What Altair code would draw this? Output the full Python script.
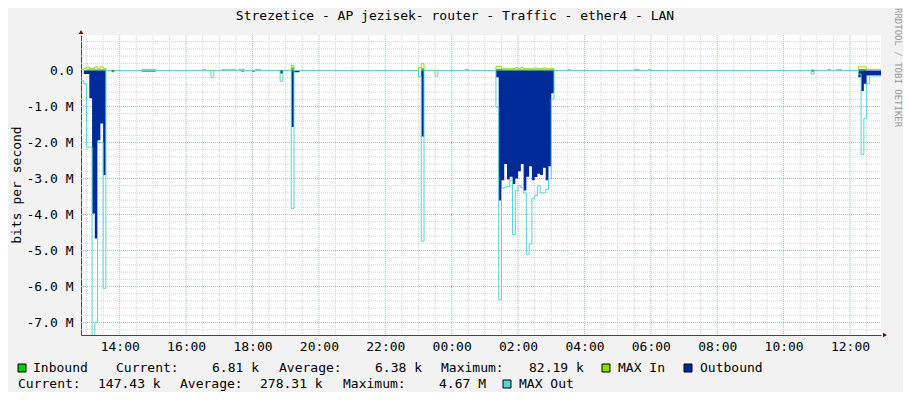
import altair as alt
import pandas as pd
import numpy as np

FONT = "DejaVu Sans Mono"

# ---------------- data: 5-minute RRD samples, values in Mbit/s ----------------
# times are HH:MM counted from midnight of day 1 (24:00 and later = next day)
outbound_t = ["12:55", "13:00", "13:05", "13:10", "13:15", "13:20", "13:25", "13:30",
              "13:45",
              "14:40", "14:45", "14:50", "14:55", "15:00",
              "17:40", "18:00",
              "18:50",
              "19:10", "19:15", "19:20",
              "23:05",
              "25:20", "25:25", "25:30", "25:35", "25:40", "25:45", "25:50", "25:55",
              "26:00", "26:05", "26:10", "26:15", "26:20", "26:25", "26:30", "26:35",
              "26:40", "26:45", "26:50", "26:55", "27:00",
              "34:50",
              "36:15", "36:20", "36:25", "36:30", "36:35", "36:40", "36:45", "36:50"]
outbound_v = [-0.10, -0.10, -0.77, -3.97, -4.67, -1.94, -1.47, -2.90,
              -0.04,
              -0.03, -0.03, -0.03, -0.03, -0.03,
              -0.03, -0.03,
              -0.08,
              -1.57, -0.05, -0.05,
              -1.83,
              -0.19, -3.61, -3.05, -2.60, -3.03, -2.95, -3.15, -3.00,
              -2.80, -2.60, -3.33, -2.95, -2.66, -3.05, -2.96, -2.87,
              -2.90, -2.70, -3.05, -2.66, -0.63,
              -0.03,
              -0.19, -0.57, -0.37, -0.14, -0.14, -0.14, -0.14, -0.14]

maxout_t = ["12:50", "12:55", "13:00", "13:05", "13:10", "13:15", "13:20", "13:25", "13:30",
            "13:45", "16:45", "18:50", "19:10", "23:00", "23:05", "23:30",
            "25:20", "25:25", "25:30", "25:35", "25:40", "25:45", "25:50", "25:55",
            "26:00", "26:05", "26:10", "26:15", "26:20", "26:25", "26:30", "26:35",
            "26:40", "26:45", "26:50", "26:55", "27:00",
            "34:50",
            "36:15", "36:20", "36:25", "36:30", "36:35", "36:40", "36:45", "36:50"]
maxout_v = [-0.28, -0.37, -2.13, -2.13, -7.60, -7.00, -2.00, -2.00, -6.05,
            -0.04, -0.20, -0.30, -3.83, -0.17, -4.74, -0.16,
            -1.02, -6.37, -3.27, -3.24, -3.22, -3.05, -4.56, -3.33,
            -3.20, -3.25, -3.40, -5.12, -4.82, -3.55, -3.47, -3.20,
            -3.40, -3.40, -3.30, -3.00, -0.79,
            -0.10,
            -0.10, -2.33, -1.33, -0.37, -0.15, -0.15, -0.15, -0.15]

maxin_t = ["12:50", "12:55", "13:00", "13:05", "13:10", "13:15", "13:20", "13:25", "13:30",
           "14:40", "14:45", "14:50", "14:55", "15:00",
           "16:30", "17:05", "17:10", "17:15", "17:20", "17:25", "17:35", "17:40",
           "18:05", "18:10", "19:10", "23:00", "23:05", "24:25",
           "25:20", "25:25", "25:30", "25:35", "25:40", "25:45", "25:50", "25:55",
           "26:00", "26:05", "26:10", "26:15", "26:20", "26:25", "26:30", "26:35",
           "26:40", "26:45", "26:50", "26:55", "27:00",
           "27:30", "29:30", "29:35", "29:55", "34:50", "35:20", "35:35", "35:40",
           "36:15", "36:20", "36:25", "36:30", "36:35", "36:40", "36:45", "36:50"]
maxin_v = [0.03, 0.06, 0.10, 0.06, 0.06, 0.10, 0.06, 0.10, 0.06,
           0.03, 0.03, 0.03, 0.03, 0.03,
           0.03, 0.03, 0.03, 0.03, 0.03, 0.03, 0.03, 0.03,
           0.03, 0.03, 0.14, 0.08, 0.19, 0.03,
           0.11, 0.11, 0.05, 0.05, 0.05, 0.05, 0.05, 0.08,
           0.05, 0.08, 0.05, 0.05, 0.05, 0.05, 0.07, 0.05,
           0.05, 0.07, 0.05, 0.05, 0.05,
           0.03, 0.03, 0.03, 0.03, 0.02, 0.03, 0.03, 0.03,
           0.10, 0.10, 0.10, 0.03, 0.03, 0.03, 0.03, 0.03]

inbound_t = ["13:00", "13:05", "13:10", "13:15", "13:20", "13:25", "13:30",
             "19:10", "23:05",
             "25:20", "25:25", "25:30", "25:35", "25:40", "25:45", "25:50", "25:55",
             "26:00", "26:05", "26:10", "26:15", "26:20", "26:25", "26:30", "26:35",
             "26:40", "26:45", "26:50", "26:55", "27:00",
             "36:15", "36:20", "36:25"]
inbound_v = [0.03, 0.03, 0.03, 0.03, 0.03, 0.03, 0.03,
             0.08, 0.06,
             0.04, 0.04, 0.03, 0.03, 0.03, 0.03, 0.03, 0.03,
             0.03, 0.03, 0.03, 0.03, 0.03, 0.03, 0.03, 0.03,
             0.03, 0.03, 0.03, 0.03, 0.03,
             0.04, 0.04, 0.04]

x_label_times = ["14:00", "16:00", "18:00", "20:00", "22:00", "24:00",
                 "26:00", "28:00", "30:00", "32:00", "34:00", "36:00"]
y_tick_values = [0, -1, -2, -3, -4, -5, -6, -7]

title_text = "Strezetice - AP jezisek- router - Traffic - ether4 - LAN"
legend_row1 = ["Inbound", "Current:", "6.81 k", "Average:", "6.38 k",
               "Maximum:", "82.19 k", "MAX In", "Outbound"]
legend_row2 = ["Current:", "147.43 k", "Average:", "278.31 k", "Maximum:",
               "4.67 M", "MAX Out"]

C_IN, C_MAXIN, C_OUT, C_MAXOUT = "#00CF00", "#8AE000", "#002A97", "#55D6D3"

# ---------------- build ----------------
BASE = pd.Timestamp("2024-05-01")


def ts(hhmm):
    h, m = map(int, hhmm.split(":"))
    return BASE + pd.Timedelta(hours=h, minutes=m)


def dt(hhmm):
    t = ts(hhmm)
    return alt.DateTime(year=t.year, month=t.month, date=t.day,
                        hours=t.hour, minutes=t.minute)


samples = pd.date_range(ts("12:50"), ts("36:50"), freq="5min")
END = "36:56"


def series(times, vals):
    assert len(times) == len(vals)
    s = pd.Series(0.0, index=samples)
    for t, v in zip(times, vals):
        s[ts(t)] = v
    df = pd.DataFrame({"t": samples, "v": s.values})
    df = pd.concat([df, pd.DataFrame({"t": [ts(END)], "v": [s.values[-1]]})],
                   ignore_index=True)
    return df


df_out = series(outbound_t, outbound_v)
df_maxout = series(maxout_t, maxout_v)
df_maxin = series(maxin_t, maxin_v)
df_in = series(inbound_t, inbound_v)

W, H = 800, 300
PX_PER_M = 36.0
Y_TOP = 35.5 / PX_PER_M            # zero line lands on a pixel centre
Y_BOT = Y_TOP - H / PX_PER_M
xscale = alt.Scale(domain=[dt("12:50"), dt(END)])
yscale = alt.Scale(domain=[Y_BOT, Y_TOP], nice=False, zero=False)

# grid positions
minor_x = [t for t in pd.date_range(ts("13:00"), ts("36:30"), freq="30min")
           if not (t.minute == 0 and t.hour % 2 == 0)]
major_x = [ts(t) for t in x_label_times]
minor_y = [round(v, 1) for v in np.arange(-7.2, 0.81, 0.2) if abs(v - round(v)) > 1e-6]
major_y = [v for v in y_tick_values if v != 0]

GRID_MINOR = "#D2D2D2"
GRID_MAJOR = "#F2A0A0"

grid_minor_x = alt.Chart(pd.DataFrame({"t": minor_x})).mark_rule(
    color=GRID_MINOR, strokeDash=[1, 1], strokeWidth=1).encode(
    x=alt.X("t:T", scale=xscale, axis=None), y=alt.value(0), y2=alt.value(H))
grid_minor_y = alt.Chart(pd.DataFrame({"v": minor_y})).mark_rule(
    color=GRID_MINOR, strokeDash=[1, 1], strokeWidth=1).encode(
    y=alt.Y("v:Q", scale=yscale, axis=None), x=alt.value(0), x2=alt.value(W))
grid_major_x = alt.Chart(pd.DataFrame({"t": major_x})).mark_rule(
    color=GRID_MAJOR, strokeDash=[1, 1], strokeWidth=1).encode(
    x=alt.X("t:T", scale=xscale, axis=None), y=alt.value(0), y2=alt.value(H))
grid_major_y = alt.Chart(pd.DataFrame({"v": major_y})).mark_rule(
    color=GRID_MAJOR, strokeDash=[1, 1], strokeWidth=1).encode(
    y=alt.Y("v:Q", scale=yscale, axis=None), x=alt.value(0), x2=alt.value(W))

xaxis = alt.Axis(values=[dt(t) for t in x_label_times], format="%H:%M",
                 grid=False, ticks=False, tickSize=0, domain=True,
                 domainColor="#444444", labelFont=FONT, labelFontSize=13,
                 labelColor="#000000", labelPadding=5, labelFlush=False,
                 labelOverlap=False, title=None)
yaxis = alt.Axis(values=y_tick_values,
                 labelExpr="datum.value == 0 ? '0.0' : '-' + format(-datum.value, '.1f') + ' M'",
                 grid=False, ticks=False, tickSize=0, domain=True,
                 domainColor="#444444", labelFont=FONT, labelFontSize=13,
                 labelColor="#000000", labelPadding=8, title=None)

area_in = alt.Chart(df_in).mark_area(interpolate="step-after", color=C_IN).encode(
    x=alt.X("t:T", scale=xscale, axis=xaxis),
    y=alt.Y("v:Q", scale=yscale, axis=yaxis), y2=alt.datum(0))
line_maxin = alt.Chart(df_maxin).mark_line(interpolate="step-after", color=C_MAXIN,
                                           strokeWidth=1, clip=True).encode(
    x=alt.X("t:T", scale=xscale, axis=None), y=alt.Y("v:Q", scale=yscale, axis=None))
area_out = alt.Chart(df_out).mark_area(interpolate="step-after", color=C_OUT,
                                       clip=True).encode(
    x=alt.X("t:T", scale=xscale, axis=None),
    y=alt.Y("v:Q", scale=yscale, axis=None), y2=alt.datum(0))
line_maxout = alt.Chart(df_maxout).mark_line(interpolate="step-after", color=C_MAXOUT,
                                             strokeWidth=1, clip=True).encode(
    x=alt.X("t:T", scale=xscale, axis=None), y=alt.Y("v:Q", scale=yscale, axis=None))

one = alt.Data(values=[{}])


def txt(s, x, y, size=13, align="left", angle=0, color="#000000"):
    return alt.Chart(one).mark_text(text=s, font=FONT, fontSize=size, align=align,
                                    baseline="middle", angle=angle, color=color).encode(
        x=alt.value(x), y=alt.value(y))


def box(color, x, y):
    return alt.Chart(one).mark_rect(fill=color, stroke="#000000", strokeWidth=1).encode(
        x=alt.value(x), x2=alt.value(x + 8), y=alt.value(y), y2=alt.value(y + 8))


def arrow(shape, x, y):
    return alt.Chart(one).mark_point(shape=shape, filled=True, size=22,
                                     color="#7F0000", opacity=1).encode(
        x=alt.value(x), y=alt.value(y))


# page coordinate -> view coordinate: vx = px - 81, vy = py - 35
L1, L2 = 368 - 35, 384 - 35
deco = [
    txt(title_text, 455 - 81, 16 - 35, size=13, align="center"),
    txt("bits per second", 17 - 81, 185 - 35, align="center", angle=270),
    txt("RRDTOOL / TOBI OETIKER", 898 - 81, 8 - 35, size=9, angle=90, color="#999999"),
    arrow("triangle-up", 0, -3),
    arrow("triangle-right", 804, H),
    box(C_IN, 18 - 81, L1 - 4),
    box(C_MAXIN, 602 - 81, L1 - 4),
    box(C_OUT, 684 - 81, L1 - 4),
    box(C_MAXOUT, 503 - 81, L2 - 4),
]
row1_x = [33, 116, 212, 279, 375, 441, 529, 618, 700]
row2_x = [18, 98, 180, 260, 343, 439, 519]
for s, px in zip(legend_row1, row1_x):
    deco.append(txt(s, px - 81, L1))
for s, px in zip(legend_row2, row2_x):
    deco.append(txt(s, px - 81, L2))

chart = alt.layer(
    grid_minor_x, grid_minor_y, grid_major_x, grid_major_y,
    area_in, line_maxin, area_out, line_maxout, *deco
).resolve_axis(
    x="independent", y="independent"
).properties(
    width=W, height=H,
    padding={"left": 73, "top": 27, "right": 22, "bottom": 57},
    autosize=alt.AutoSizeParams(type="none"),
    background="#F2F2F2",
).configure_view(stroke=None, fill="#FFFFFF")

chart.save("out.html", embed_options={"renderer": "svg", "actions": False})
